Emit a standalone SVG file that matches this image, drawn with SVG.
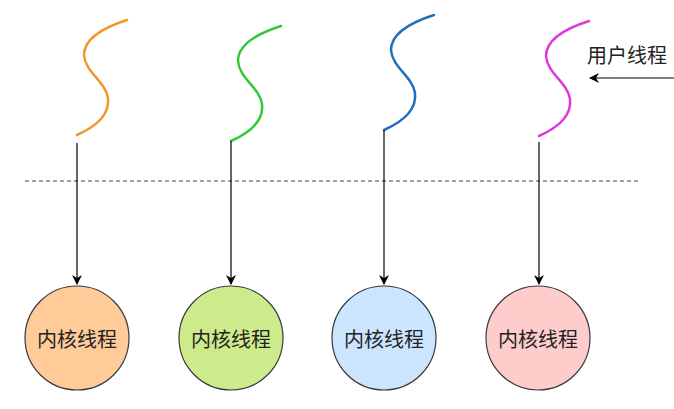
<svg xmlns="http://www.w3.org/2000/svg" width="674" height="409" viewBox="0 0 674 409">
<style>
.node circle{stroke:#36393d;stroke-width:1.2}
.node text{font-family:"Noto Sans CJK SC","Liberation Sans",sans-serif;font-size:20px;fill:#222;text-anchor:middle;dominant-baseline:central}
.wave{fill:none;stroke-width:2.5;stroke-linecap:round}
.conn line{stroke:#000;stroke-width:1.2}
.lbl{font-family:"Noto Sans CJK SC","Liberation Sans",sans-serif;font-size:20px;fill:#222}
</style>
<defs>
<marker id="arr" viewBox="0 0 10 10" refX="9" refY="5" markerWidth="10" markerHeight="10" markerUnits="userSpaceOnUse" orient="auto">
<path d="M0,0 L10,5 L0,10 L3,5 Z" fill="#000"/>
</marker>
<path id="wv" d="M0,0 C18,-8 33,-20 31,-37 C29,-53 8,-63 7,-80 C7,-97 28,-108 50,-115"/>
</defs>
<g id="waves">
<use href="#wv" class="wave" stroke="#F0962A" transform="translate(77,135)"/>
<use href="#wv" class="wave" stroke="#35C835" transform="translate(231,141)"/>
<use href="#wv" class="wave" stroke="#1F6FBF" transform="translate(384,130)"/>
<use href="#wv" class="wave" stroke="#E035E0" transform="translate(539,136)"/>
</g>
<line x1="25" y1="181" x2="638" y2="181" stroke="#444" stroke-width="1.2" stroke-dasharray="4,3"/>
<g id="connectors" class="conn">
<line x1="77" y1="143" x2="77" y2="284" marker-end="url(#arr)"/>
<line x1="231" y1="141" x2="231" y2="284" marker-end="url(#arr)"/>
<line x1="384" y1="130" x2="384" y2="284" marker-end="url(#arr)"/>
<line x1="539" y1="142" x2="539" y2="284" marker-end="url(#arr)"/>
<line x1="674" y1="78" x2="590" y2="78" marker-end="url(#arr)"/>
</g>
<g id="n1" class="node"><circle cx="77" cy="338" r="52" fill="#FFCC99"/><text x="77" y="338">内核线程</text></g>
<g id="n2" class="node"><circle cx="231" cy="338" r="52" fill="#CDEB8B"/><text x="231" y="338">内核线程</text></g>
<g id="n3" class="node"><circle cx="384" cy="338" r="52" fill="#CCE5FF"/><text x="384" y="338">内核线程</text></g>
<g id="n4" class="node"><circle cx="538" cy="338" r="52" fill="#FFCCCC"/><text x="538" y="338">内核线程</text></g>
<text class="lbl" x="587" y="63">用户线程</text>
</svg>
